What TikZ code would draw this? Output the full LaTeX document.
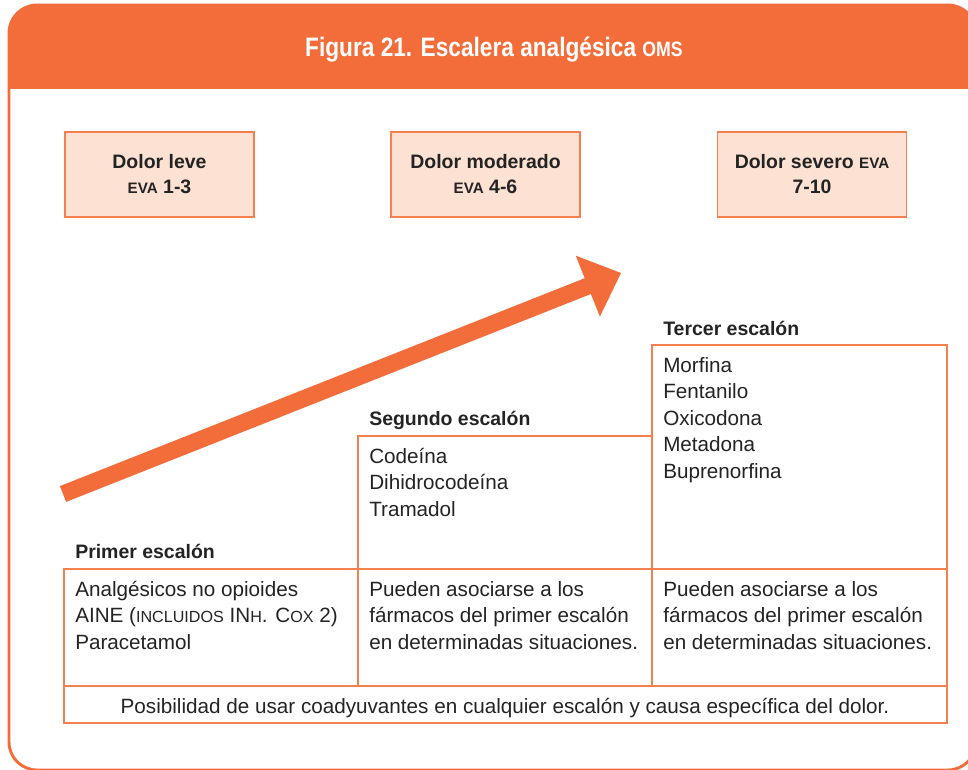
\documentclass[tikz,border=0pt]{standalone}
\usepackage{fontspec}
\usepackage{graphicx}
\setmainfont{Liberation Sans}
\definecolor{oms}{HTML}{F26D3A}
\definecolor{boxfill}{HTML}{FDE2D3}
\definecolor{tline}{HTML}{F4804F}
\definecolor{txt}{HTML}{232323}
\newcommand\smc[1]{\scalebox{0.78}{#1}}
\begin{document}
\begin{tikzpicture}[x=0.75pt,y=-0.75pt,
  body/.style={anchor=base west, inner sep=0pt, text=txt, font=\fontsize{15.5}{18}\selectfont},
  lbl/.style={anchor=base west, inner sep=0pt, text=txt, font=\fontsize{14.6}{18}\selectfont\bfseries},
  painbox/.style={draw=tline, fill=boxfill, line width=1.1pt, minimum width=141.75pt, minimum height=63.75pt,
    align=center, text=txt, font=\fontsize{14.6}{18.75}\selectfont\bfseries, inner sep=0pt},
  tbl/.style={draw=tline, line width=1.1pt}]
\useasboundingbox (0,0) rectangle (968,769);
% frame and header
\begin{scope}
  \path[clip, rounded corners=21pt] (9,5) rectangle (976,770);
  \fill[oms] (0,0) rectangle (980,89);
\end{scope}
\draw[oms, line width=2.2pt, rounded corners=21pt] (9,5) rectangle (976,770);
\node[text=white, font=\fontsize{20}{22}\selectfont\bfseries, inner sep=0pt, anchor=base] (title) at (494,56)
  {\scalebox{0.85}[1]{Figura 21. Escalera analgésica \smc{OMS}}};
% pain boxes
\node[painbox] (leve) at (159.5,174.5) {Dolor leve\\\smc{EVA} 1-3};
\node[painbox] (moderado) at (485.5,174.5) {Dolor moderado\\\smc{EVA} 4-6};
\node[painbox] (severo) at (812,174.5) {Dolor severo \smc{EVA}\\7-10};
% arrow
\fill[oms] (59.9,486.1) -- (584.7,278.2) -- (575.7,255.6) -- (621,273) -- (599.9,316.6) -- (590.9,294.0) -- (66.1,501.9) -- cycle;
% table
\draw[tbl] (64,569) rectangle (947,723);
\draw[tbl] (64,686) -- (947,686);
\draw[tbl] (358,686) -- (358,436) -- (652,436);
\draw[tbl] (652,686) -- (652,345) -- (947,345) -- (947,569);
% step labels
\node[lbl] (l1) at (75,558) {Primer escalón};
\node[lbl] (l2) at (369,425) {Segundo escalón};
\node[lbl] (l3) at (663,335) {Tercer escalón};
% second step drugs
\node[body] (s1) at (369,463) {Codeína};
\node[body] (s2) at (369,489.5) {Dihidrocodeína};
\node[body] (s3) at (369,516) {Tramadol};
% third step drugs
\node[body] (t1) at (663,372) {Morfina};
\node[body] (t2) at (663,398.5) {Fentanilo};
\node[body] (t3) at (663,425) {Oxicodona};
\node[body] (t4) at (663,451.5) {Metadona};
\node[body] (t5) at (663,478) {Buprenorfina};
% row texts
\node[body] (a1) at (75,596) {Analgésicos no opioides};
\node[body] (a2) at (75,622.5) {AINE (\smc{INCLUIDOS} IN\smc{H}. C\smc{OX} 2)};
\node[body] (a3) at (75,649) {Paracetamol};
\node[body] (b1) at (369,596) {Pueden asociarse a los};
\node[body] (b2) at (369,622.5) {fármacos del primer escalón};
\node[body] (b3) at (369,649) {en determinadas situaciones.};
\node[body] (c1) at (663,596) {Pueden asociarse a los};
\node[body] (c2) at (663,622.5) {fármacos del primer escalón};
\node[body] (c3) at (663,649) {en determinadas situaciones.};
\node[body, anchor=base] (foot) at (505,713) {Posibilidad de usar coadyuvantes en cualquier escalón y causa específica del dolor.};
\end{tikzpicture}
\end{document}
